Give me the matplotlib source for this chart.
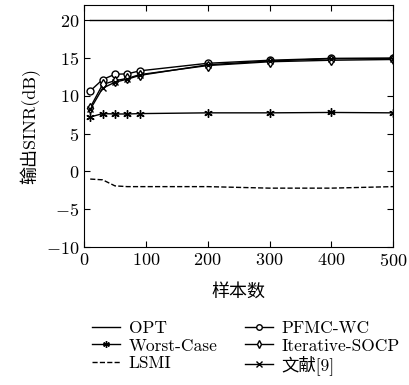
import numpy as np
import matplotlib
matplotlib.use("Agg")
import matplotlib.pyplot as plt

plt.rcParams['font.family'] = ['cmr10', 'Noto Sans CJK SC']
plt.rcParams['mathtext.fontset'] = 'cm'
plt.rcParams['axes.formatter.use_mathtext'] = True
plt.rcParams['axes.unicode_minus'] = True

# datos
n = [10, 30, 50, 70, 90, 200, 300, 400, 500]
opt = [20, 20, 20, 20, 20, 20, 20, 20, 20]
worst = [7.2, 7.65, 7.6, 7.6, 7.65, 7.75, 7.75, 7.8, 7.75]
lsmi = [-1.0, -1.1, -1.9, -2.0, -2.0, -2.0, -2.2, -2.2, -2.0]
pfmc = [10.65, 12.15, 12.85, 12.9, 13.3, 14.3, 14.7, 14.95, 15.0]
socp = [8.45, 11.5, 12.0, 12.3, 12.8, 14.0, 14.5, 14.7, 14.8]
ref9 = [8.2, 11.0, 11.8, 12.2, 12.7, 14.1, 14.6, 14.9, 14.9]

fig = plt.figure(figsize=(4.1, 3.85), dpi=100)
ax = fig.add_axes([0.205, 0.358, 0.754, 0.629])

ax.plot(n, opt, 'k-', lw=1.0, label='OPT')
ax.plot(n, worst, 'k-', lw=1.0, marker=(6, 2, 0), ms=6, label='Worst-Case')
ax.plot(n, lsmi, 'k--', lw=1.0, label='LSMI')
ax.plot(n, pfmc, 'k-', lw=1.0, marker='o', ms=5, mfc='white', label='PFMC-WC')
ax.plot(n, socp, 'k-', lw=1.0, marker='d', ms=5, mfc='white', label='Iterative-SOCP')
ax.plot(n, ref9, 'k-', lw=1.0, marker='x', ms=5, label='文献[9]')

ax.set_xlim(0, 500)
ax.set_ylim(-10, 22)
ax.set_xticks([0, 100, 200, 300, 400, 500])
ax.set_yticks([-10, -5, 0, 5, 10, 15, 20])
ax.tick_params(direction='in', top=True, right=True, labelsize=13, length=4)
ax.set_xlabel('样本数', fontsize=13, labelpad=10)
ax.set_ylabel('输出SINR(dB)', fontsize=13)

leg = fig.legend(loc='lower center', bbox_to_anchor=(0.6, -0.015), ncol=2, frameon=False,
                 fontsize=12.5, handlelength=1.6, labelspacing=0.1, columnspacing=1.6,
                 handletextpad=0.5, markerscale=0.8)

plt.savefig('out.png', dpi=100)
